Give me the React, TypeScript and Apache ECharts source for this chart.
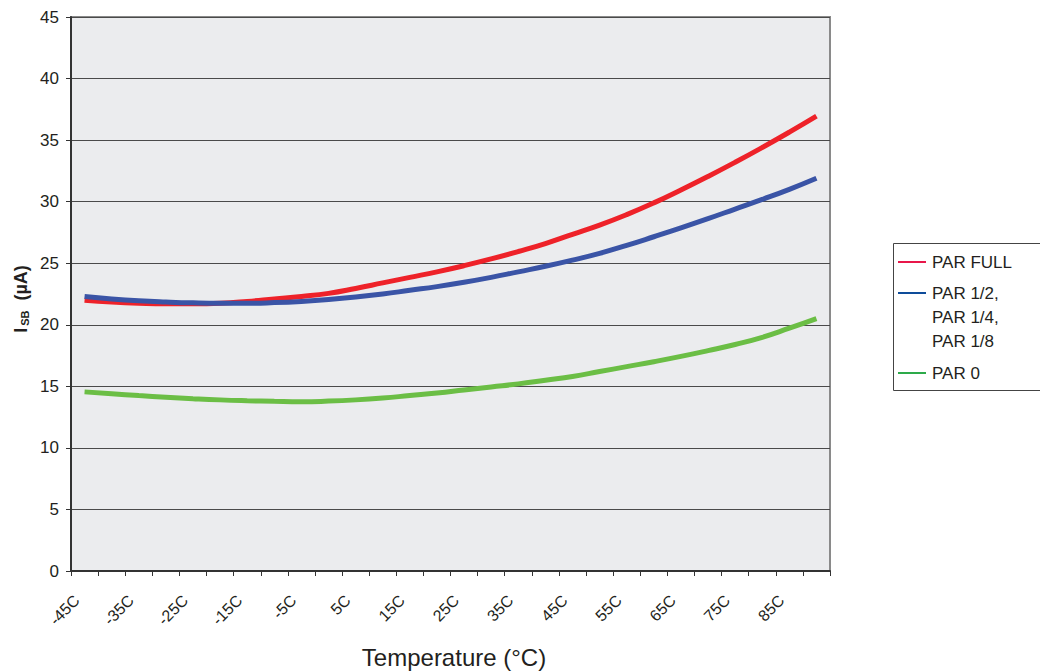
import React, { useEffect, useRef } from "react";
import * as echarts from "echarts";

const categories = [
  "-45C", "-40C", "-35C", "-30C", "-25C", "-20C", "-15C", "-10C", "-5C", "0C",
  "5C", "10C", "15C", "20C", "25C", "30C", "35C", "40C", "45C", "50C",
  "55C", "60C", "65C", "70C", "75C", "80C", "85C", "90C",
];

const parFull = [
  22.0, 21.85, 21.75, 21.7, 21.7, 21.75, 21.9, 22.1, 22.3, 22.55,
  22.95, 23.4, 23.85, 24.3, 24.8, 25.35, 25.95, 26.6, 27.35, 28.1,
  28.95, 29.9, 30.95, 32.05, 33.2, 34.4, 35.65, 36.95,
];

const parHalf = [
  22.3, 22.1, 21.95, 21.85, 21.78, 21.75, 21.75, 21.8, 21.9, 22.05,
  22.25, 22.5, 22.8, 23.1, 23.45, 23.85, 24.3, 24.75, 25.25, 25.8,
  26.45, 27.15, 27.87, 28.62, 29.4, 30.18, 31.0, 31.9,
];

const parZero = [
  14.55, 14.4, 14.25, 14.12, 14.0, 13.9, 13.83, 13.78, 13.75, 13.8,
  13.9, 14.05, 14.25, 14.45, 14.7, 14.95, 15.2, 15.5, 15.8, 16.2,
  16.6, 17.0, 17.43, 17.9, 18.4, 18.98, 19.72, 20.5,
];

const legendNames = ["PAR FULL", "PAR 1/2,\nPAR 1/4,\nPAR 1/8", "PAR 0"];
const FONT = "'Liberation Sans', Arial, sans-serif";

export default function App() {
  const ref = useRef<HTMLDivElement>(null);
  useEffect(() => {
    if (!ref.current) return;
    const chart = echarts.init(ref.current, undefined, { renderer: "svg" });
    const mkSeries = (name: string, data: number[], color: string) => ({
      name,
      type: "line",
      data,
      smooth: true,
      symbol: "none",
      lineStyle: { color, width: 5 },
      itemStyle: { color },
    });
    chart.setOption({
      animation: false,
      backgroundColor: "#ffffff",
      textStyle: { fontFamily: FONT },
      grid: {
        left: 71,
        top: 17,
        width: 759,
        height: 554,
        show: true,
        backgroundColor: "#EBECEE",
        borderColor: "#8a8a8a",
        borderWidth: 2,
      },
      xAxis: {
        type: "category",
        data: categories,
        boundaryGap: true,
        axisLine: { show: true, lineStyle: { color: "#333", width: 2 } },
        axisTick: { show: true, interval: 0, length: 5, lineStyle: { color: "#333", width: 1 } },
        axisLabel: {
          interval: 1,
          rotate: 45,
          fontSize: 16,
          color: "#231F20",
          fontFamily: FONT,
          margin: 19,
          padding: [0, 11, 0, 0],
        },
        splitLine: { show: false },
      },
      yAxis: {
        type: "value",
        min: 0,
        max: 45,
        interval: 5,
        axisLine: { show: true, lineStyle: { color: "#333", width: 2 } },
        axisTick: { show: true, length: 5, lineStyle: { color: "#333", width: 1 } },
        axisLabel: { fontSize: 17, color: "#231F20", fontFamily: FONT, margin: 12 },
        splitLine: { show: true, lineStyle: { color: "#4a4a4a", width: 1 } },
      },
      series: [
        mkSeries("PAR FULL", parFull, "#EE2229"),
        mkSeries("PAR 1/2, PAR 1/4, PAR 1/8", parHalf, "#3A54A6"),
        mkSeries("PAR 0", parZero, "#6BBE45"),
      ],
      graphic: [
        {
          type: "text",
          x: 21,
          y: 299,
          rotation: Math.PI / 2,
          style: {
            text: "{a|I}{b|SB}{a|  (µA)}",
            align: "center",
            verticalAlign: "middle",
            rich: {
              a: { fontSize: 18, fontWeight: "bold", fontFamily: FONT, fill: "#231F20" },
              b: { fontSize: 11, fontWeight: "bold", fontFamily: FONT, fill: "#231F20", padding: [7, 0, 0, 2] },
            },
          },
        },
        {
          type: "text",
          x: 454,
          y: 657,
          style: {
            text: "Temperature (°C)",
            align: "center",
            verticalAlign: "middle",
            fontSize: 24,
            fontFamily: FONT,
            fill: "#231F20",
          },
        },
        {
          type: "rect",
          shape: { x: 893.5, y: 243.5, width: 160, height: 147 },
          style: { fill: "#ffffff", stroke: "#444", lineWidth: 1 },
        },
        { type: "line", shape: { x1: 898, y1: 262, x2: 926, y2: 262 }, style: { stroke: "#E8174A", lineWidth: 2 } },
        { type: "line", shape: { x1: 898, y1: 293, x2: 926, y2: 293 }, style: { stroke: "#0E4C9A", lineWidth: 2 } },
        { type: "line", shape: { x1: 898, y1: 373, x2: 926, y2: 373 }, style: { stroke: "#2DAA4A", lineWidth: 2 } },
        {
          type: "text",
          x: 932,
          y: 262,
          style: { text: legendNames[0], fontSize: 17, fontFamily: FONT, fill: "#231F20", verticalAlign: "middle" },
        },
        {
          type: "text",
          x: 932,
          y: 281,
          style: { text: legendNames[1], fontSize: 17, lineHeight: 24, fontFamily: FONT, fill: "#231F20", verticalAlign: "top" },
        },
        {
          type: "text",
          x: 932,
          y: 373,
          style: { text: legendNames[2], fontSize: 17, fontFamily: FONT, fill: "#231F20", verticalAlign: "middle" },
        },
      ],
    });
    return () => chart.dispose();
  }, []);
  return (
    <div
      ref={ref}
      style={{ position: "fixed", left: 0, top: 0, width: 1040, height: 671, background: "#fff" }}
    />
  );
}
